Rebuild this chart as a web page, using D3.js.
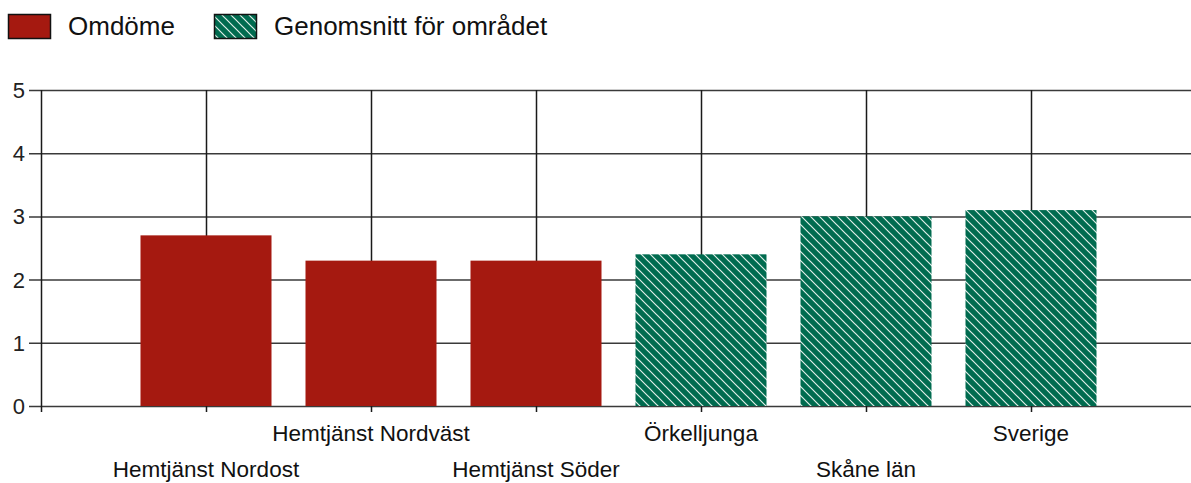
<!DOCTYPE html>
<html>
<head>
<meta charset="utf-8">
<script src="https://cdn.jsdelivr.net/npm/d3@7"></script>
<style>
  body { margin: 0; background: #fff; }
  svg { display: block; font-family: "Liberation Sans", Arial, sans-serif; }
</style>
</head>
<body>
<svg id="chart" width="1191" height="483"></svg>
<script>
// chart data
let categories = ['Hemtjänst Nordost', 'Hemtjänst Nordväst', 'Hemtjänst Söder', 'Örkelljunga', 'Skåne län', 'Sverige']
let values = [2.7, 2.3, 2.3, 2.4, 3.0, 3.1]
let seriesOf = ['own', 'own', 'own', 'avg', 'avg', 'avg']
let seriesNames = ['Omdöme', 'Genomsnitt för området']
let yTicks = [0, 1, 2, 3, 4, 5]

let svg = d3.select('#chart')
let red = '#a51910'
let green = '#006b4f'

// hatch pattern for the average bars
let defs = svg.append('defs')
let pat = defs.append('pattern')
    .attr('id', 'hatch')
    .attr('patternUnits', 'userSpaceOnUse')
    .attr('width', 9)
    .attr('height', 9)
pat.append('rect').attr('width', 9).attr('height', 9).attr('fill', green)
pat.append('path')
    .attr('d', 'M-1,-1 L10,10 M-1,8 L1,10 M8,-1 L10,1')
    .attr('stroke', '#dfeee8')
    .attr('stroke-width', 1.2)

let plotLeft = 41, plotTop = 90, plotBottom = 406

// x runs from 0 to 7, categories sit at 1..6
let x = d3.scaleLinear().domain([0, 7]).range([plotLeft, plotLeft + 165 * 7])
let y = d3.scaleLinear().domain([0, 5]).range([plotBottom, plotTop])

let grid = svg.append('g')

// horizontal grid lines + y ticks
grid.selectAll('line.h')
    .data(yTicks)
    .enter()
    .append('line')
    .attr('x1', plotLeft - 12)
    .attr('x2', 1191)
    .attr('y1', (d) => y(d) + 0.5)
    .attr('y2', (d) => y(d) + 0.5)
    .attr('stroke', '#3a3a3a')
    .attr('stroke-width', 1.5)

// vertical grid lines at categories
grid.selectAll('line.v')
    .data(categories)
    .enter()
    .append('line')
    .attr('x1', (d, i) => x(i + 1) + 0.5)
    .attr('x2', (d, i) => x(i + 1) + 0.5)
    .attr('y1', plotTop)
    .attr('y2', plotBottom + 6)
    .attr('stroke', '#1a1a1a')
    .attr('stroke-width', 1.5)

// y axis line
grid.append('line')
    .attr('x1', plotLeft + 0.5)
    .attr('x2', plotLeft + 0.5)
    .attr('y1', plotTop)
    .attr('y2', plotBottom + 6)
    .attr('stroke', '#1a1a1a')
    .attr('stroke-width', 1.5)

// y tick labels
svg.selectAll('text.ytick')
    .data(yTicks)
    .enter()
    .append('text')
    .attr('x', 25)
    .attr('y', (d) => y(d) + 8)
    .attr('text-anchor', 'end')
    .attr('font-size', 22)
    .attr('fill', '#222')
    .text((d) => d)

// bars
let barW = 131
svg.selectAll('rect.bar')
    .data(values)
    .enter()
    .append('rect')
    .attr('x', (d, i) => x(i + 1) - barW / 2)
    .attr('y', (d) => y(d))
    .attr('width', barW)
    .attr('height', (d) => y(0) - y(d))
    .attr('fill', (d, i) => seriesOf[i] === 'own' ? red : 'url(#hatch)')

// x labels, staggered over two rows
svg.selectAll('text.xlab')
    .data(categories)
    .enter()
    .append('text')
    .attr('x', (d, i) => x(i + 1))
    .attr('y', (d, i) => i % 2 === 0 ? 477 : 441)
    .attr('text-anchor', 'middle')
    .attr('font-size', 22.5)
    .attr('fill', '#111')
    .text((d) => d)

// legend
let legend = svg.append('g')
let legX = [8, 214]
seriesNames.forEach((name, i) => {
    legend.append('rect')
        .attr('x', legX[i] + 0.5)
        .attr('y', 14.5)
        .attr('width', 42)
        .attr('height', 24)
        .attr('fill', i === 0 ? red : 'url(#hatch)')
        .attr('stroke', '#111')
        .attr('stroke-width', 1.5)
    legend.append('text')
        .attr('x', legX[i] + 60)
        .attr('y', 35)
        .attr('font-size', 26)
        .attr('fill', '#111')
        .text(name)
})
</script>
</body>
</html>
